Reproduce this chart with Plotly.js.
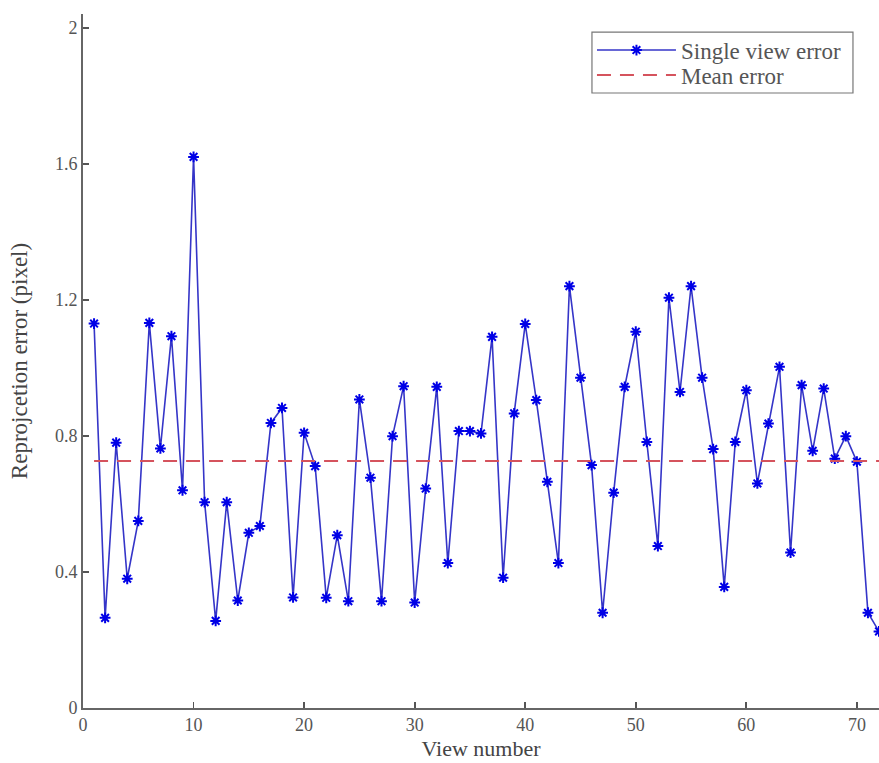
<!DOCTYPE html>
<html>
<head>
<meta charset="utf-8">
<script src="https://cdn.plot.ly/plotly-3.0.1.min.js"></script>
<style>html,body{margin:0;padding:0;background:#fff;}#chart{width:879px;height:763px;}</style>
</head>
<body>
<div id="chart"></div>
<script>
const viewNumbers = [1,2,3,4,5,6,7,8,9,10,11,12,13,14,15,16,17,18,19,20,21,22,23,24,25,26,27,28,29,30,31,32,33,34,35,36,37,38,39,40,41,42,43,44,45,46,47,48,49,50,51,52,53,54,55,56,57,58,59,60,61,62,63,64,65,66,67,68,69,70,71,72];
const singleViewError = [1.13,0.265,0.78,0.38,0.55,1.132,0.763,1.093,0.64,1.62,0.605,0.256,0.605,0.316,0.515,0.535,0.838,0.882,0.325,0.809,0.711,0.324,0.508,0.314,0.907,0.677,0.314,0.799,0.946,0.31,0.645,0.944,0.426,0.814,0.814,0.807,1.091,0.383,0.866,1.129,0.905,0.665,0.426,1.24,0.971,0.714,0.28,0.633,0.944,1.106,0.782,0.476,1.206,0.929,1.24,0.971,0.761,0.356,0.782,0.934,0.66,0.836,1.003,0.457,0.949,0.756,0.939,0.733,0.799,0.724,0.28,0.225];
const meanX = [1, 72];
const meanError = [0.726, 0.726];
const xTicks = [0,10,20,30,40,50,60,70];
const yTicks = [0,0.4,0.8,1.2,1.6,2];
const yTickLabels = ['0','0.4','0.8','1.2','1.6','2'];

const fontFam = '"Liberation Serif", "Times New Roman", serif';
const legendFont = {family: fontFam, size: 23, color: '#555'};

const traces = [
  {
    x: viewNumbers, y: singleViewError, type: 'scatter', mode: 'lines+markers',
    name: 'Single view error', legend: 'legend',
    line: {color: '#3535c8', width: 1.6},
    marker: {symbol: 'asterisk-open', size: 9, color: '#0000e6', line: {color: '#0000e6', width: 2}},
    cliponaxis: true
  },
  {
    x: meanX, y: meanError, type: 'scatter', mode: 'lines',
    name: 'Mean error', legend: 'legend2',
    line: {color: '#d5535d', width: 2, dash: '14px,9px'}
  }
];

const layout = {
  width: 879, height: 763,
  margin: {l: 83, r: 0, t: 14, b: 55},
  paper_bgcolor: '#fff', plot_bgcolor: '#fff',
  showlegend: true,
  font: {family: fontFam, color: '#555'},
  xaxis: {
    range: [0, 72], tickvals: xTicks, ticks: 'inside', ticklen: 6, tickwidth: 1.8, tickcolor: '#555',
    showline: true, linecolor: '#666', linewidth: 1.8, showgrid: false, zeroline: false,
    tickfont: {family: fontFam, size: 18, color: '#555'},
    title: {text: 'View number', font: {family: fontFam, size: 22, color: '#444'}, standoff: 6}
  },
  yaxis: {
    range: [0, 2.04], tickvals: yTicks, ticktext: yTickLabels, ticks: 'inside', ticklen: 6, tickwidth: 1.8, tickcolor: '#555',
    showline: true, linecolor: '#666', linewidth: 1.8, showgrid: false, zeroline: false,
    tickfont: {family: fontFam, size: 18, color: '#555'},
    title: {text: 'Reprojcetion error (pixel)', font: {family: fontFam, size: 23, color: '#444'}, standoff: 21}
  },
  legend: {
    x: 0.6394, y: 0.948, xanchor: 'left', yanchor: 'middle',
    bgcolor: 'rgba(0,0,0,0)', borderwidth: 0,
    font: legendFont, itemwidth: 79
  },
  legend2: {
    x: 0.6394, y: 0.912, xanchor: 'left', yanchor: 'middle',
    bgcolor: 'rgba(0,0,0,0)', borderwidth: 0,
    font: legendFont, itemwidth: 79
  },
  shapes: [{
    type: 'rect', xref: 'paper', yref: 'paper',
    x0: 0.6394, x1: 0.9673, y0: 0.8862, y1: 0.974,
    line: {color: '#777', width: 1.2}, fillcolor: 'rgba(0,0,0,0)', layer: 'below'
  }]
};

Plotly.newPlot('chart', traces, layout, {staticPlot: true});
</script>
</body>
</html>
